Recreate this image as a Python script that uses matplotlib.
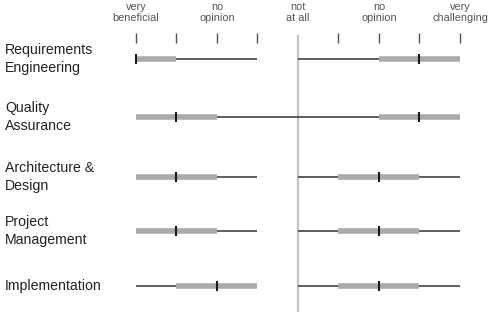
import matplotlib
matplotlib.use("Agg")
import matplotlib.pyplot as plt

# ---- data (scale: -4 very beneficial ... 0 not at all ... 4 very challenging)
categories = ["Requirements\nEngineering", "Quality\nAssurance", "Architecture &\nDesign",
              "Project\nManagement", "Implementation"]
# beneficial side (negative values)
ben_min = [-4, -4, -4, -4, -4]
ben_max = [-1, 0, -1, -1, -1]
ben_q1 = [-4, -4, -4, -4, -3]
ben_q3 = [-3, -2, -2, -2, -1]
ben_med = [-4, -3, -3, -3, -2]
# challenging side (positive values)
cha_min = [0, 0, 0, 0, 0]
cha_max = [4, 4, 4, 4, 4]
cha_q1 = [2, 2, 1, 1, 1]
cha_q3 = [4, 4, 3, 3, 3]
cha_med = [3, 3, 2, 2, 2]

tick_values = [-4, -3, -2, -1, 1, 2, 3, 4]
header_values = [-4, -2, 0, 2, 4]
header_labels = ["very\nbeneficial", "no\nopinion", "not\nat all", "no\nopinion", "very\nchallenging"]

# ---- layout
W, H = 499, 317
row_y = [59, 117, 177, 231, 286]   # pixel rows
x0_px, unit_px = 298, 40.5

fig = plt.figure(figsize=(W / 100, H / 100), dpi=100)
ax = fig.add_axes([0, 0, 1, 1])
ax.set_xlim((0 - x0_px) / unit_px, (W - x0_px) / unit_px)
ax.set_ylim(H, 0)
ax.axis("off")

font = "Liberation Sans"
whisk_c, box_c, med_c = "#333333", "#aaaaaa", "#1a1a1a"

# center line
ax.vlines(0, 35, 312, color="#c4c4c4", lw=1.6, zorder=1)
# top ticks
ax.vlines(tick_values, 33, 43, color="#555555", lw=1.0)
for v, lab in zip(header_values, header_labels):
    ax.text(v, 2.5, lab, ha="center", va="top", fontsize=7.8, color="#555555",
            family=font, linespacing=1.1)

for i, cat in enumerate(categories):
    y = row_y[i]
    ax.text(-7.23, y, cat, ha="left", va="center", fontsize=10.2, color="#222222",
            family=font, linespacing=1.4)
    for mn, mx, q1, q3, md in [(ben_min[i], ben_max[i], ben_q1[i], ben_q3[i], ben_med[i]),
                               (cha_min[i], cha_max[i], cha_q1[i], cha_q3[i], cha_med[i])]:
        ax.hlines(y, mn, mx, color=whisk_c, lw=1.1, zorder=2)
        ax.hlines(y, q1, q3, color=box_c, lw=4.0, zorder=3)
        ax.vlines(md, y - 5, y + 5, color=med_c, lw=1.5, zorder=4)

fig.savefig("out.png", dpi=100)
